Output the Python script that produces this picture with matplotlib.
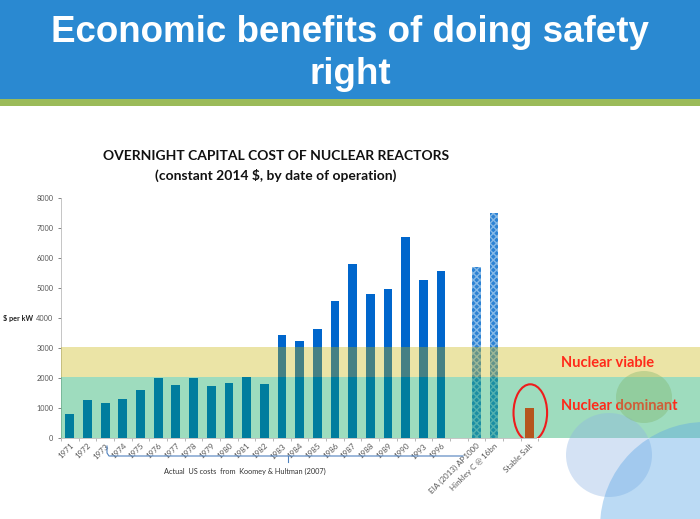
import numpy as np
import matplotlib
matplotlib.use('Agg')
import matplotlib.pyplot as plt
from matplotlib.patches import Rectangle, Ellipse
from matplotlib.lines import Line2D

plt.rcParams['font.family'] = ['Lato', 'DejaVu Sans']

# data ($ per kW, constant 2014 $)
years = ['1971', '1972', '1973', '1974', '1975', '1976', '1977', '1978', '1979', '1980',
         '1981', '1982', '1983', '1984', '1985', '1986', '1987', '1988', '1989', '1990',
         '1993', '1996']
actual_cost = [790, 1260, 1165, 1300, 1590, 2000, 1765, 2000, 1730, 1840,
               2030, 1800, 3430, 3220, 3620, 4580, 5800, 4800, 4960, 6690,
               5270, 5570]
proj_labels = ['EIA (2013) AP1000', 'Hinkley C @ 16bn']
proj_cost = [5710, 7510]
salt_label = 'Stable Salt'
salt_cost = 990

dominant_max = 2040
viable_max = 3040

W, H = 700, 519
fig = plt.figure(figsize=(W / 100, H / 100), dpi=100)
fig.patch.set_facecolor('white')

# slide header
fig.patches.append(Rectangle((0, 1 - 99 / H), 1, 99 / H, transform=fig.transFigure,
                             facecolor='#2A89D1', edgecolor='none', zorder=0))
fig.patches.append(Rectangle((0, 1 - 106 / H), 1, 7 / H, transform=fig.transFigure,
                             facecolor='#9BBB59', edgecolor='none', zorder=0))
hfont = ['Liberation Sans', 'DejaVu Sans']
fig.text(0.5, 1 - 33 / H, 'Economic benefits of doing safety', color='white',
         fontsize=26.5, fontweight='bold', ha='center', va='center', family=hfont)
fig.text(0.5, 1 - 75 / H, 'right', color='white',
         fontsize=26.5, fontweight='bold', ha='center', va='center', family=hfont)

# chart title
fig.text(276 / W, 1 - 156 / H, 'OVERNIGHT CAPITAL COST OF NUCLEAR REACTORS',
         fontsize=10, fontweight='bold', ha='center', va='center', color='#111111')
fig.text(276 / W, 1 - 175 / H, '(constant 2014 $, by date of operation)',
         fontsize=10, fontweight='bold', ha='center', va='center', color='#111111')

ax = fig.add_axes([61 / W, (H - 438) / H, 1 - 61 / W, 240 / H])
ax.set_facecolor('none')

x_act = np.arange(len(years))
x_proj = np.array([len(years) + 1, len(years) + 2])
x_salt = len(years) + 4

ax.bar(x_act, actual_cost, width=0.5, color='#0066CC', zorder=2)
ax.bar(x_proj, proj_cost, width=0.5, color='#2C82D4', edgecolor='#86B9E6',
       hatch='xxxxx', linewidth=0, zorder=2)
ax.bar([x_salt], [salt_cost], width=0.5, color='#B5561E', zorder=4)

# zones, drawn translucent over the bars
ax.axhspan(0, dominant_max, color=(0.0, 0.64, 0.33), alpha=0.38, lw=0, zorder=3)
ax.axhspan(dominant_max, viable_max, color=(0.78, 0.70, 0.0), alpha=0.35, lw=0, zorder=3)

ax.add_patch(Ellipse((x_salt + 0.05, 840), 1.9, 1900, fill=False, edgecolor='#EE1C1C',
                     linewidth=1.5, zorder=4))

ax.text(27.8, 2510, 'Nuclear viable', color='#FF2A1A', fontsize=10.5,
        fontweight='bold', va='center', ha='left', zorder=5)
ax.text(27.8, 1060, 'Nuclear dominant', color='#FF2A1A', fontsize=10.5,
        fontweight='bold', va='center', ha='left', zorder=5)

ax.set_xlim(-0.5, 35.65)
ax.set_ylim(0, 8000)
ax.set_yticks(range(0, 8001, 1000))
ax.tick_params(axis='y', labelsize=5.3, colors='#555555', length=2, width=0.5)
ax.set_xticks(list(x_act) + list(x_proj) + [x_salt])
ax.set_xticklabels(years + proj_labels + [salt_label], rotation=45, ha='right',
                   rotation_mode='anchor', fontsize=5.8, color='#595959')
ax.tick_params(axis='x', length=0, pad=3)
ax.set_xticks(np.arange(-0.5, 26.6, 1), minor=True)
ax.tick_params(axis='x', which='minor', length=2, width=0.5, color='#999999')
for s in ['top', 'right']:
    ax.spines[s].set_visible(False)
ax.spines['left'].set_color('#BBBBBB')
ax.spines['left'].set_linewidth(0.6)
ax.spines['bottom'].set_color('#BBBBBB')
ax.spines['bottom'].set_linewidth(0.6)
ax.spines['bottom'].set_bounds(-0.5, 26.4)

fig.text(3 / W, 1 - 318 / H, '$ per kW', fontsize=5.2, fontweight='bold',
         ha='left', va='center', color='#222222')

# brace under the actual-cost years
bc = '#4F81BD'
fig.lines.append(Line2D([107 / W, 107 / W, 109 / W, 463 / W],
                        [1 - 446 / H, 1 - 453 / H, 1 - 456 / H, 1 - 456 / H],
                        transform=fig.transFigure, color=bc, linewidth=0.8))
fig.lines.append(Line2D([288 / W, 288 / W], [1 - 456 / H, 1 - 462 / H],
                        transform=fig.transFigure, color=bc, linewidth=0.8))
fig.text(245 / W, 1 - 471 / H, 'Actual  US costs  from  Koomey & Hultman (2007)',
         fontsize=5.3, ha='center', va='center', color='#333333')

# decorative circles bottom right
fig.patches.append(Ellipse((609 / W, 1 - 455 / H), 86 / W, 84 / H, transform=fig.transFigure,
                           facecolor='#8EB4E3', alpha=0.38, edgecolor='none', zorder=6))
fig.patches.append(Ellipse((705 / W, 1 - 527 / H), 210 / W, 210 / H, transform=fig.transFigure,
                           facecolor='#5EA8E6', alpha=0.42, edgecolor='none', zorder=6))
fig.patches.append(Ellipse((644 / W, 1 - 397 / H), 56 / W, 52 / H, transform=fig.transFigure,
                           facecolor='#7FB56A', alpha=0.38, edgecolor='none', zorder=6))

fig.savefig('out.png', dpi=100)
